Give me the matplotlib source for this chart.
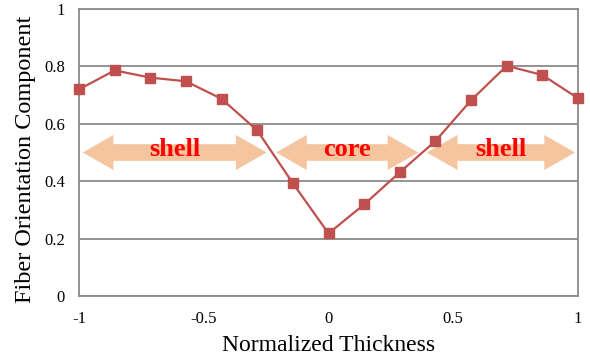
import matplotlib
matplotlib.use("Agg")
import matplotlib.pyplot as plt
from matplotlib.patches import Polygon

plt.rcParams['font.family'] = ['Liberation Serif', 'DejaVu Serif']

# data
thickness = [-1, -6/7, -5/7, -4/7, -3/7, -2/7, -1/7, 0, 1/7, 2/7, 3/7, 4/7, 5/7, 6/7, 1]
orientation = [0.72, 0.786, 0.761, 0.748, 0.687, 0.577, 0.393, 0.218, 0.319,
               0.431, 0.540, 0.682, 0.802, 0.770, 0.689]

region_labels = ["shell", "core", "shell"]
region_start = [-0.985, -0.21, 0.394]
region_end = [-0.248, 0.360, 0.988]

xticks = [-1, -0.5, 0, 0.5, 1]
xticklabels = ["-1", "-0.5", "0", "0.5", "1"]
yticks = [0, 0.2, 0.4, 0.6, 0.8, 1]
yticklabels = ["0", "0.2", "0.4", "0.6", "0.8", "1"]

grey = "#8a8a8a"
red = "#c0504d"
peach = "#f5c59f"

fig = plt.figure(figsize=(5.9, 3.6), dpi=100)
ax = fig.add_axes([79/590, 1 - 296/360, 499/590, 287/360])

ax.set_xlim(-1, 1)
ax.set_ylim(0, 1)
ax.set_xticks(xticks)
ax.set_xticklabels(xticklabels)
ax.set_yticks(yticks)
ax.set_yticklabels(yticklabels)
ax.tick_params(length=0, labelsize=12)
ax.tick_params(axis='x', pad=11)
ax.tick_params(axis='y', pad=10)

ax.grid(axis='y', color=grey, linewidth=1.3, zorder=0)
for s in ax.spines.values():
  s.set_color(grey)
  s.set_linewidth(1.3)

# double headed arrows for the layers
yc = 0.5
hb = 0.029   # half body height
hh = 0.061   # half head height
hl = 0.123   # head length
for lab, x0, x1 in zip(region_labels, region_start, region_end):
  pts = [(x0, yc), (x0 + hl, yc + hh), (x0 + hl, yc + hb), (x1 - hl, yc + hb),
         (x1 - hl, yc + hh), (x1, yc), (x1 - hl, yc - hh), (x1 - hl, yc - hb),
         (x0 + hl, yc - hb), (x0 + hl, yc - hh)]
  ax.add_patch(Polygon(pts, closed=True, facecolor=peach, edgecolor='none', zorder=2))
  ax.text((x0 + x1) / 2, yc + 0.01, lab, color='red', fontsize=19, fontweight='bold',
          ha='center', va='center', zorder=3)

ax.plot(thickness, orientation, color=red, linewidth=1.6, marker='s',
        markersize=7.5, zorder=4, clip_on=False)

ax.set_xlabel("Normalized Thickness", fontsize=17)
ax.set_ylabel("Fiber Orientation Component", fontsize=17.5)
ax.xaxis.set_label_coords(0.5, -0.171)
ax.yaxis.set_label_coords(-0.108, 0.477)
ax.xaxis.label.set_va('center')
ax.yaxis.label.set_va('center')

fig.savefig("out.png", dpi=100)
